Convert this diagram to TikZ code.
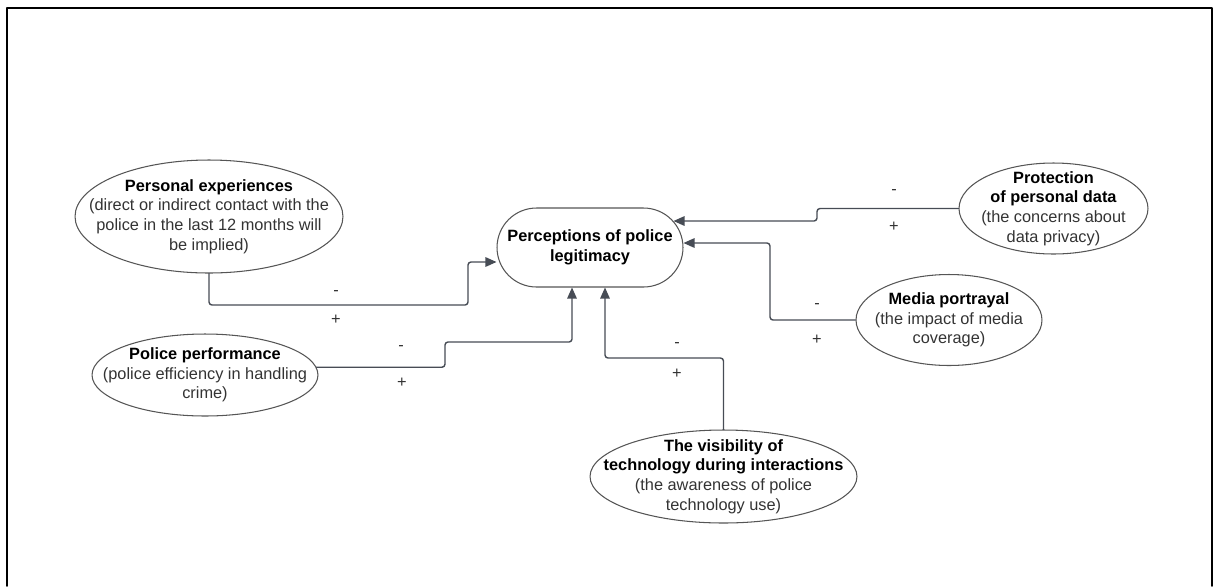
\documentclass[tikz,border=0pt]{standalone}
\usepackage{fontspec}
\setmainfont{Liberation Sans}
\usetikzlibrary{arrows.meta,shapes.geometric}
\definecolor{linkgray}{HTML}{474C55}
\definecolor{edgegray}{HTML}{555555}
\definecolor{textgray}{HTML}{333333}
\tikzset{
	factor/.style={ellipse, draw=edgegray, line width=0.6pt, inner sep=0pt},
	factortext/.style={align=center, text=textgray, inner sep=0pt},
	link/.style={draw=linkgray, line width=0.8pt, rounded corners=0.06cm, -{Triangle[length=2.2mm,width=1.9mm]}},
	sign/.style={text=textgray, inner sep=0pt},
}
\begin{document}
\begin{tikzpicture}[x=0.02cm, y=-0.02cm, font=\fontsize{9.3}{11.2}\selectfont, line join=round, line cap=round]
	\useasboundingbox (0,0) rectangle (1214,586);
	\draw[line width=1pt] (7,586) -- (7,8) -- (1212,8) -- (1212,586);
	% outcome
	\node[draw=edgegray, line width=0.6pt, rounded corners=0.79cm, minimum width=3.72cm, minimum height=1.58cm, align=center] (pc) at (590,247.5) {\textbf{Perceptions of police}\\\textbf{legitimacy}};
	% factors
	\node[factor, minimum width=5.36cm, minimum height=2.26cm, label={[factortext, name=pe text]center:{{\color{black}\textbf{Personal experiences}}\\(direct or indirect contact with the\\police in the last 12 months will\\be implied)}}] (pe) at (209,216.5) {};
	\node[factor, minimum width=4.52cm, minimum height=1.64cm, label={[factortext, name=pp text]center:{{\color{black}\textbf{Police performance}}\\(police efficiency in handling\\crime)}}] (pp) at (205,375) {};
	\node[factor, minimum width=3.78cm, minimum height=1.82cm, label={[factortext, name=pd text]center:{{\color{black}\textbf{Protection}}\\{\color{black}\textbf{of personal data}}\\(the concerns about\\data privacy)}}] (pd) at (1053.5,208.5) {};
	\node[factor, minimum width=3.72cm, minimum height=1.82cm, label={[factortext, name=mp text]center:{{\color{black}\textbf{Media portrayal}}\\(the impact of media\\coverage)}}] (mp) at (949,320) {};
	\node[factor, minimum width=5.34cm, minimum height=1.86cm, label={[factortext, name=vis text]center:{{\color{black}\textbf{The visibility of}}\\{\color{black}\textbf{technology during interactions}}\\(the awareness of police\\technology use)}}] (vis) at (723.5,476.5) {};
	% links
	\draw[link] (pe.south) |- (468,305) |- ([yshift=-0.29cm]pc.west);
	\draw[link] (pp.4) -| (445,342) -| ([xshift=-0.36cm]pc.south);
	\draw[link] (vis.north) |- (605,358) -- ([xshift=0.3cm]pc.south);
	\draw[link] (mp.west) -| (770,243) -- ([yshift=0.09cm]pc.east);
	\draw[link] (pd.west) -| (817,221) -- ([xshift=-0.2cm, yshift=0.53cm]pc.east);
	% signs
	\node[sign] (pe minus) at (336,293) {-};
	\node[sign] (pe plus) at (336,320) {+};
	\node[sign] (pp minus) at (401,348) {-};
	\node[sign] (pp plus) at (402,383) {+};
	\node[sign] (vis minus) at (677,345) {-};
	\node[sign] (vis plus) at (677,374) {+};
	\node[sign] (mp minus) at (817,306) {-};
	\node[sign] (mp plus) at (817,340) {+};
	\node[sign] (pd minus) at (894,192) {-};
	\node[sign] (pd plus) at (894,227) {+};
\end{tikzpicture}
\end{document}
